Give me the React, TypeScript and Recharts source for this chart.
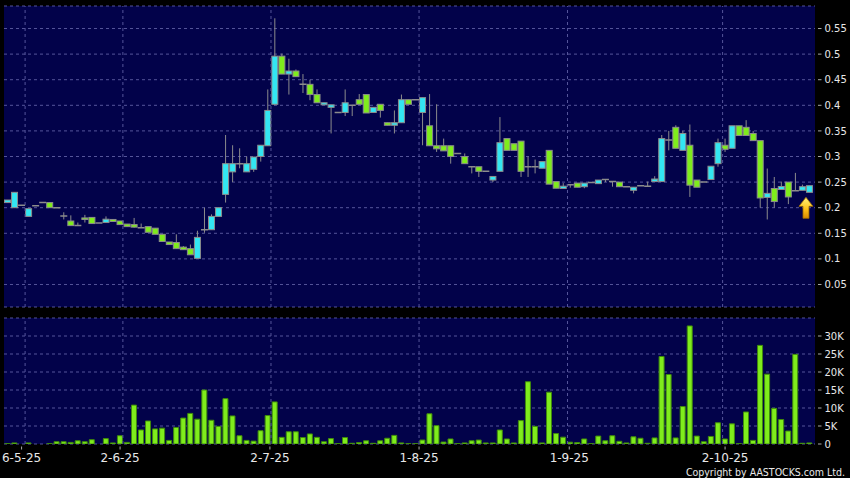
import React from "react"
import {
  ComposedChart,
  Bar,
  XAxis,
  YAxis,
  CartesianGrid,
  ReferenceLine,
  ReferenceDot,
} from "recharts"

// one entry per trading slot (left → right)
const open = [
  0.21, 0.2, 0.205, 0.183, 0.204, 0.21, 0.21, 0.2, 0.184, 0.174,
  0.165, 0.18, 0.181, 0.17, 0.171, 0.177, 0.174, 0.168, 0.167, 0.161,
  0.163, 0.16, 0.148, 0.133, 0.132, 0.123, 0.12, 0.101, 0.157, 0.157,
  0.183, 0.226, 0.27, 0.286, 0.27, 0.275, 0.3, 0.321, 0.402, 0.496,
  0.461, 0.467, 0.441, 0.441, 0.421, 0.401, 0.396, 0.386, 0.386, 0.4,
  0.411, 0.421, 0.386, 0.402, 0.366, 0.361, 0.366, 0.411, 0.411, 0.386,
  0.36, 0.321, 0.321, 0.321, 0.306, 0.3, 0.28, 0.28, 0.271, 0.254,
  0.271, 0.335, 0.325, 0.33, 0.28, 0.28, 0.277, 0.312, 0.251, 0.2375,
  0.245, 0.248, 0.241, 0.249, 0.247, 0.255, 0.251, 0.25, 0.241, 0.234,
  0.243, 0.242, 0.251, 0.251, 0.332, 0.357, 0.312, 0.322, 0.254, 0.25,
  0.255, 0.286, 0.322, 0.316, 0.36, 0.357, 0.345, 0.331, 0.22, 0.2375,
  0.2355, 0.25, 0.233, 0.234, 0.23,
]
const close = [
  0.215, 0.23, 0.205, 0.198, 0.204, 0.21, 0.2, 0.2, 0.184, 0.165,
  0.165, 0.177, 0.169, 0.17, 0.1775, 0.173, 0.167, 0.163, 0.162, 0.161,
  0.152, 0.148, 0.134, 0.128, 0.12, 0.118, 0.108, 0.142, 0.157, 0.183,
  0.2, 0.286, 0.286, 0.286, 0.286, 0.299, 0.322, 0.39, 0.496, 0.461,
  0.467, 0.456, 0.441, 0.421, 0.405, 0.405, 0.401, 0.386, 0.405, 0.4,
  0.402, 0.385, 0.396, 0.39, 0.361, 0.366, 0.411, 0.402, 0.411, 0.415,
  0.321, 0.315, 0.311, 0.3, 0.306, 0.286, 0.28, 0.271, 0.271, 0.261,
  0.327, 0.312, 0.312, 0.271, 0.28, 0.28, 0.29, 0.246, 0.238, 0.242,
  0.245, 0.24, 0.248, 0.249, 0.254, 0.255, 0.251, 0.241, 0.241, 0.24,
  0.243, 0.242, 0.256, 0.335, 0.332, 0.316, 0.345, 0.244, 0.24, 0.25,
  0.281, 0.327, 0.314, 0.36, 0.341, 0.341, 0.331, 0.219, 0.228, 0.212,
  0.2414, 0.221, 0.233, 0.241, 0.243,
]
const high = [
  0.215, 0.23, 0.205, 0.198, 0.204, 0.21, 0.21, 0.2, 0.191, 0.185,
  0.171, 0.186, 0.181, 0.17, 0.183, 0.177, 0.174, 0.168, 0.18, 0.169,
  0.163, 0.16, 0.148, 0.133, 0.148, 0.125, 0.128, 0.155, 0.2, 0.187,
  0.2, 0.342, 0.322, 0.316, 0.3, 0.299, 0.322, 0.431, 0.57, 0.501,
  0.491, 0.47, 0.461, 0.45, 0.431, 0.405, 0.401, 0.386, 0.431, 0.4,
  0.422, 0.421, 0.396, 0.402, 0.366, 0.39, 0.421, 0.411, 0.411, 0.415,
  0.422, 0.402, 0.335, 0.321, 0.306, 0.306, 0.28, 0.28, 0.271, 0.261,
  0.377, 0.335, 0.325, 0.33, 0.3, 0.294, 0.29, 0.312, 0.251, 0.248,
  0.245, 0.248, 0.248, 0.249, 0.254, 0.255, 0.251, 0.25, 0.241, 0.24,
  0.243, 0.251, 0.2615, 0.342, 0.35, 0.361, 0.35, 0.3625, 0.254, 0.25,
  0.281, 0.335, 0.335, 0.36, 0.36, 0.371, 0.35, 0.331, 0.2765, 0.26,
  0.251, 0.25, 0.268, 0.245, 0.243,
]
const low = [
  0.21, 0.2, 0.205, 0.183, 0.204, 0.21, 0.2, 0.2, 0.177, 0.165,
  0.165, 0.171, 0.169, 0.17, 0.171, 0.173, 0.167, 0.163, 0.161, 0.161,
  0.152, 0.148, 0.134, 0.128, 0.12, 0.118, 0.108, 0.1, 0.151, 0.157,
  0.183, 0.21, 0.25, 0.277, 0.27, 0.27, 0.29, 0.321, 0.4, 0.461,
  0.421, 0.456, 0.424, 0.41, 0.405, 0.401, 0.345, 0.386, 0.379, 0.379,
  0.402, 0.385, 0.386, 0.376, 0.361, 0.345, 0.366, 0.402, 0.411, 0.322,
  0.321, 0.309, 0.311, 0.286, 0.306, 0.286, 0.267, 0.26, 0.271, 0.25,
  0.271, 0.312, 0.312, 0.26, 0.26, 0.267, 0.277, 0.246, 0.238, 0.2375,
  0.239, 0.24, 0.238, 0.249, 0.247, 0.25, 0.241, 0.241, 0.241, 0.228,
  0.243, 0.242, 0.251, 0.251, 0.312, 0.316, 0.312, 0.221, 0.24, 0.25,
  0.255, 0.28, 0.309, 0.316, 0.341, 0.341, 0.331, 0.2, 0.177, 0.2,
  0.2355, 0.207, 0.233, 0.234, 0.23,
]
// volume in thousands of shares
const volumeK = [
  0.1, 0.3, 0, 0.3, 0, 0, 0.1, 0.65, 0.65, 0.45,
  0.9, 0.65, 1.2, 0, 1.5, 0.3, 2.3, 0.45, 10.8, 3.9,
  6.4, 4.2, 4.4, 1.0, 4.6, 7.2, 8.5, 6.9, 15.0, 6.6,
  4.9, 12.6, 7.8, 2.3, 1.0, 0.8, 3.7, 7.9, 11.7, 1.85,
  3.4, 3.4, 1.8, 2.8, 1.85, 0.65, 1.5, 0.1, 1.8, 0.2,
  0.4, 0.9, 0.2, 0.9, 1.6, 2.4, 0.3, 0.1, 0.1, 1.1,
  8.4, 5.1, 0.55, 1.4, 0.1, 0.3, 0.9, 1.1, 0.3, 0.3,
  3.9, 1.4, 0.3, 6.5, 17.3, 4.9, 0.3, 14.4, 2.9, 1.9,
  0.5, 0.4, 1.4, 0.1, 2.2, 0.9, 2.3, 0.75, 0.3, 2.0,
  1.6, 0.2, 1.7, 24.3, 19.3, 1.7, 10.4, 32.8, 2.2, 0.65,
  2.1, 5.9, 1.4, 5.6, 0.1, 8.9, 1.0, 27.4, 19.4, 9.9,
  6.8, 3.6, 24.9, 0.2, 0.3,
]

const priceTicks = [0.05, 0.1, 0.15, 0.2, 0.25, 0.3, 0.35, 0.4, 0.45, 0.5, 0.55]
const volumeTicks = [0, 5000, 10000, 15000, 20000, 25000, 30000]
const dateTickSlots = [2, 16, 37.3, 58.5, 79.85, 102]
const dateTickLabels = ["6-5-25", "2-6-25", "2-7-25", "1-8-25", "1-9-25", "2-10-25"]
const dateGridSlots = [2.5, 16.4, 37.45, 58.5, 79.6, 101.65]

const NAVY = "#02024a"
const GRID = "#55559a"
const CYAN = "#33e6f2"
const GREEN = "#7fec1c"
const EDGE = "#8c8c8c"
const TEXT = "#e8e8e8"
const FONT = "'DejaVu Sans', sans-serif"

const data = open.map((o, i) => ({
  i,
  open: o,
  close: close[i],
  high: high[i],
  low: low[i],
  range: [low[i], high[i]],
  volume: volumeK[i] * 1000,
}))

// candle drawn inside the [low, high] bar rectangle
function Candle(props: any) {
  const { payload } = props
  if (!payload) return null
  const x = Number(props.x), y = Number(props.y)
  const width = Number(props.width), height = Number(props.height)
  const { open: o, close: c, high: h, low: l } = payload
  const py = (v: number) => (h === l ? y : y + ((h - v) / (h - l)) * height)
  const cx = x + width / 2
  const top = Math.min(py(o), py(c))
  const bot = Math.max(py(o), py(c))
  const bw = width - 1
  const up = c > o
  return (
    <g>
      {h !== l && (
        <line x1={cx} x2={cx} y1={y} y2={y + height} stroke={EDGE} strokeWidth={1} />
      )}
      {Math.abs(o - c) < 1e-9 ? (
        <line x1={x} x2={x + width} y1={top} y2={top} stroke={EDGE} strokeWidth={1.5} />
      ) : (
        <rect
          x={cx - bw / 2}
          y={top}
          width={bw}
          height={Math.max(bot - top, 1)}
          fill={up ? CYAN : GREEN}
          stroke={EDGE}
          strokeWidth={1}
        />
      )}
    </g>
  )
}

function RightTick(props: any) {
  const x = Number(props.x), y = Number(props.y)
  return (
    <g>
      <line x1={x - 6} x2={x - 2.5} y1={y} y2={y} stroke="#aaaaaa" />
      <text x={x + 0.5} y={y + 3.6} fill={TEXT} fontSize={10} fontFamily={FONT}>
        {props.fmt(props.payload.value)}
      </text>
    </g>
  )
}

function DateTick(props: any) {
  const x = Number(props.x), y = Number(props.y)
  const idx = dateTickSlots.indexOf(props.payload.value)
  return (
    <g>
      <line x1={x} x2={x} y1={y - 5.5} y2={y - 2.5} stroke="#aaaaaa" />
      <text x={x} y={y + 10.3} textAnchor="middle" fill={TEXT} fontSize={12} fontFamily={FONT}>
        {idx >= 0 ? dateTickLabels[idx] : ""}
      </text>
    </g>
  )
}

function Arrow(props: any) {
  if (props.cx == null || props.cy == null) return null
  const ax = Number(props.cx) - 3.5
  const t = Number(props.cy) + 5
  return (
    <g>
      <defs>
        <linearGradient id="arrowGold" x1="0" y1="0" x2="0" y2="1">
          <stop offset="0%" stopColor="#fff27a" />
          <stop offset="55%" stopColor="#ffc21a" />
          <stop offset="100%" stopColor="#d98a00" />
        </linearGradient>
      </defs>
      <path
        d={`M${ax},${t} L${ax + 7},${t + 9} L${ax + 3},${t + 9} L${ax + 3},${t + 21} L${ax - 3},${t + 21} L${ax - 3},${t + 9} L${ax - 7},${t + 9} Z`}
        fill="url(#arrowGold)"
        stroke="#9a6a00"
        strokeWidth={0.8}
      />
    </g>
  )
}

const fmtPrice = (v: number) => String(+v.toFixed(2))
const fmtVol = (v: number) => (v === 0 ? "0" : `${v / 1000}K`)

export default function App() {
  return (
    <div style={{ position: "absolute", left: 0, top: 0, width: 850, height: 478, background: "#000", overflow: "hidden" }}>
      <div style={{ position: "absolute", left: 0, top: 0 }}>
        <ComposedChart
          width={850}
          height={312}
          data={data}
          margin={{ top: 6, right: 0, bottom: 5, left: 4 }}
          barCategoryGap={0}
        >
          <CartesianGrid vertical={false} fill={NAVY} fillOpacity={1} stroke={GRID} strokeDasharray="3 3" />
          <XAxis dataKey="i" type="category" orientation="top" hide padding={{ left: 0, right: 2 }} />
          <XAxis
            xAxisId="num"
            dataKey="i"
            type="number"
            domain={[-0.5, 114.5]}
            hide
            padding={{ left: 0, right: 2 }}
            allowDataOverflow
          />
          <YAxis
            orientation="right"
            type="number"
            domain={[0.006, 0.594]}
            ticks={priceTicks}
            width={35}
            axisLine={false}
            tickLine={false}
            tickSize={7}
            tickMargin={2}
            allowDataOverflow
            interval={0}
            tick={<RightTick fmt={fmtPrice} />}
          />
          {dateGridSlots.map((s) => (
            <ReferenceLine key={s} xAxisId="num" x={s} stroke={GRID} strokeDasharray="3 3" />
          ))}
          <Bar dataKey="range" shape={<Candle />} isAnimationActive={false} />
          <ReferenceDot x={114} y={low[114]} r={0} shape={<Arrow />} />
        </ComposedChart>
      </div>
      <div style={{ position: "absolute", left: 0, top: 312 }}>
        <ComposedChart
          width={850}
          height={166}
          data={data}
          margin={{ top: 6, right: 0, bottom: 0, left: 4 }}
          barCategoryGap={0.85}
        >
          <CartesianGrid vertical={false} fill={NAVY} fillOpacity={1} stroke={GRID} strokeDasharray="3 3" />
          <XAxis dataKey="i" type="category" orientation="top" hide padding={{ left: 0, right: 2 }} />
          <XAxis
            xAxisId="num"
            dataKey="i"
            type="number"
            domain={[-0.5, 114.5]}
            ticks={dateTickSlots}
            interval={0}
            height={34}
            axisLine={false}
            tickLine={false}
            tickSize={6}
            tickMargin={2}
            padding={{ left: 0, right: 2 }}
            allowDataOverflow
            tick={<DateTick />}
          />
          <YAxis
            orientation="right"
            type="number"
            domain={[0, 35000]}
            ticks={volumeTicks}
            width={35}
            axisLine={false}
            tickLine={false}
            tickSize={7}
            tickMargin={2}
            allowDataOverflow
            interval={0}
            tick={<RightTick fmt={fmtVol} />}
          />
          {dateGridSlots.map((s) => (
            <ReferenceLine key={s} xAxisId="num" x={s} stroke={GRID} strokeDasharray="3 3" />
          ))}
          <Bar dataKey="volume" fill={GREEN} stroke="#3f8a0c" strokeWidth={1} isAnimationActive={false} />
        </ComposedChart>
      </div>
      <svg width={850} height={478} style={{ position: "absolute", left: 0, top: 0, pointerEvents: "none" }}>
        <text
          x={845}
          y={475.5}
          textAnchor="end"
          fill={TEXT}
          fontSize={10.5}
          fontFamily="'DejaVu Sans Condensed', 'DejaVu Sans', sans-serif"
        >
          Copyright by AASTOCKS.com Ltd.
        </text>
      </svg>
    </div>
  )
}
